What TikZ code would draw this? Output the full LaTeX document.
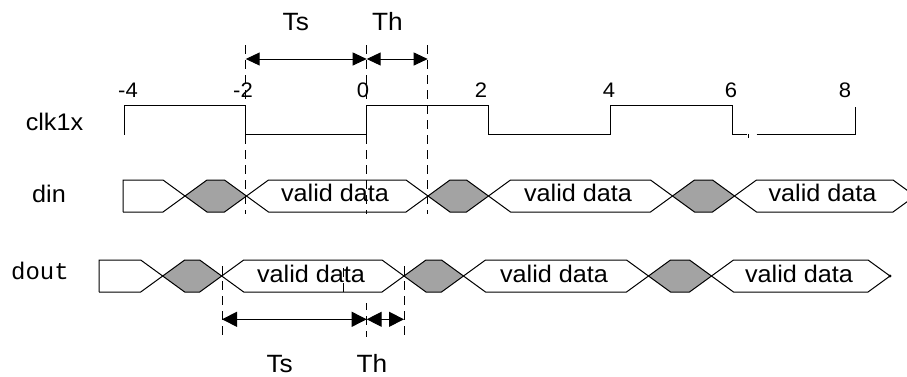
\documentclass[tikz,border=0pt]{standalone}
\usepackage{fontspec}
\setmainfont{Liberation Sans}[FakeStretch=1.05]
\newfontfamily\monof{Liberation Mono}
\usetikzlibrary{arrows.meta}
\tikzset{
  wave/.style={line width=1pt, line join=miter},
  hatch/.style={fill=black!36},
  guide/.style={line width=1pt, dash pattern=on 9pt off 6pt},
  dimtop/.style={line width=1pt, {Triangle[length=14pt,width=13pt]}-{Triangle[length=14pt,width=13pt]}},
  dimbot/.style={line width=1pt, {Triangle[length=15pt,width=15pt]}-{Triangle[length=15pt,width=15pt]}},
  lbl/.style={inner sep=0pt, anchor=base},
  big/.style={font=\fontsize{24}{26}\selectfont},
  tlab/.style={font=\fontsize{25}{27}\selectfont},
  num/.style={font=\fontsize{21}{23}\selectfont},
}
\begin{document}
\begin{tikzpicture}[x=1pt,y=-1pt]
\useasboundingbox (0,0) rectangle (907,376);
\clip (0,0) rectangle (907,376);

% ---------- hatched (invalid) regions ----------
% din
\fill[hatch] (185,196) -- (207,180) -- (224.5,180) -- (246.5,196) -- (224.5,212) -- (207,212) -- cycle;
\fill[hatch] (428,196) -- (450,180) -- (466.5,180) -- (488.5,196) -- (466.5,212) -- (450,212) -- cycle;
\fill[hatch] (672.5,196) -- (694.5,180) -- (712.5,180) -- (734.5,196) -- (712.5,212) -- (694.5,212) -- cycle;
% dout
\fill[hatch] (162.7,276) -- (184.7,260) -- (199.7,260) -- (221.7,276) -- (199.7,292) -- (184.7,292) -- cycle;
\fill[hatch] (404,276) -- (426,260) -- (441.5,260) -- (463.5,276) -- (441.5,292) -- (426,292) -- cycle;
\fill[hatch] (648.5,276) -- (670.5,260) -- (689.5,260) -- (711.5,276) -- (689.5,292) -- (670.5,292) -- cycle;

% ---------- clock ----------
\draw[wave] (124,134.5) -- (124,105.3) -- (245.7,105.3) -- (245.7,134.3) -- (366.7,134.3) -- (366.7,105.3)
  -- (488.7,105.3) -- (488.7,134.3) -- (610,134.3) -- (610,105.3) -- (732,105.3) -- (732,134.3) -- (746.5,134.3);
\draw[wave] (756.5,134.3) -- (855,134.3) -- (855,106.7);
\draw[wave] (748,134.3) -- (748,137.5);

% ---------- din ----------
\draw[wave] (123,212) -- (123,180) -- (163,180) -- (207,212) -- (224.5,212) -- (268.5,180) -- (406,180)
  -- (450,212) -- (466.5,212) -- (510.5,180) -- (650.5,180) -- (694.5,212) -- (712.5,212) -- (756.5,180)
  -- (893,180) -- (937,212);
\draw[wave] (123,212) -- (163,212) -- (207,180) -- (224.5,180) -- (268.5,212) -- (406,212)
  -- (450,180) -- (466.5,180) -- (510.5,212) -- (650.5,212) -- (694.5,180) -- (712.5,180) -- (756.5,212)
  -- (893,212) -- (937,180);

% ---------- dout ----------
\draw[wave] (99,292) -- (99,260) -- (140.7,260) -- (184.7,292) -- (199.7,292) -- (243.7,260) -- (382,260)
  -- (426,292) -- (441.5,292) -- (485.5,260) -- (626.5,260) -- (670.5,292) -- (689.5,292) -- (733.5,260)
  -- (868,260) -- (890,276);
\draw[wave] (99,292) -- (140.7,292) -- (184.7,260) -- (199.7,260) -- (243.7,292) -- (382,292)
  -- (426,260) -- (441.5,260) -- (485.5,292) -- (626.5,292) -- (670.5,260) -- (689.5,260) -- (733.5,292)
  -- (868,292) -- (890,276);
\fill (890,276) circle (1.6pt);

% ---------- guide lines ----------
\draw[guide] (245.7,45) -- (245.7,214);
\draw[guide] (366.7,45) -- (366.7,214);
\draw[guide] (427.7,45) -- (427.7,214);
\draw[guide] (222,266) -- (222,337);
\draw[guide] (343,268) -- (343,293);
\draw[guide, dash phase=2pt] (366.7,303) -- (366.7,337);
\draw[guide] (404,266) -- (404,337);

% ---------- dimension arrows ----------
\coordinate (tA) at (245.7,59);
\coordinate (tB) at (366.7,59);
\coordinate (tC) at (427.7,59);
\draw[dimtop] (tA) -- (tB);
\draw[dimtop] (tB) -- (tC);
\coordinate (bA) at (222,319.3);
\coordinate (bB) at (366.7,319.3);
\coordinate (bC) at (404,319.3);
\draw[dimbot] (bA) -- (bB);
\draw[dimbot] (bB) -- (bC);

% ---------- labels ----------
\node[lbl, tlab] (tsT) at (295.8,30.5) {Ts};
\node[lbl, tlab] (thT) at (387.5,30.5) {Th};
\node[lbl, tlab] (tsB) at (279.7,372) {Ts};
\node[lbl, tlab] (thB) at (372,372) {Th};

\node[lbl, num] (nm4) at (128,97.5) {-4};
\node[lbl, num] (nm2) at (243,97.5) {-2};
\node[lbl, num] (n0) at (363,97.5) {0};
\node[lbl, num] (n2) at (481,97.5) {2};
\node[lbl, num] (n4) at (609,97.5) {4};
\node[lbl, num] (n6) at (731,97.5) {6};
\node[lbl, num] (n8) at (845,97.5) {8};

\node[lbl, big] (lclk) at (54.5,130) {clk1x};
\node[lbl, big] (ldin) at (49,202.7) {din};
\node[lbl, font=\monof\fontsize{24}{26}\selectfont] (ldout) at (40,279.5) {dout};

\node[lbl, big] (v1) at (335,201.7) {valid data};
\node[lbl, big] (v2) at (578,201.7) {valid data};
\node[lbl, big] (v3) at (822.5,201.7) {valid data};
\node[lbl, big] (w1) at (311,282.3) {valid data};
\node[lbl, big] (w2) at (554,282.3) {valid data};
\node[lbl, big] (w3) at (799,282.3) {valid data};
\end{tikzpicture}
\end{document}
